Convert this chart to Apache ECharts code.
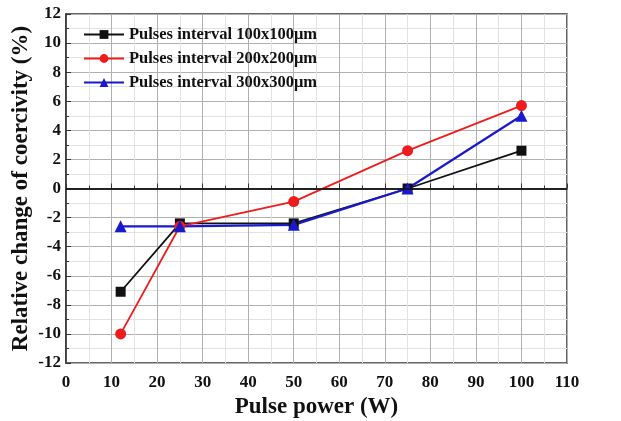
<!DOCTYPE html>
<html>
<head>
<meta charset="utf-8">
<script src="https://cdn.jsdelivr.net/npm/echarts@6/dist/echarts.min.js"></script>
<style>
  html, body { margin: 0; padding: 0; background: #fff; }
  #chart { width: 621px; height: 421px; }
</style>
</head>
<body>
<div id="chart"></div>
<script>
// values
var power = [12, 25, 50, 75, 100];
var interval100 = [-7.1, -2.4, -2.4, 0.0, 2.6];
var interval200 = [-10.0, -2.6, -0.9, 2.6, 5.7];
var interval300 = [-2.6, -2.6, -2.5, 0.0, 5.0];

var names = [
  'Pulses interval 100x100\u03bcm',
  'Pulses interval 200x200\u03bcm',
  'Pulses interval 300x300\u03bcm'
];

function pairs(ys) {
  var out = [];
  for (var i = 0; i < power.length; i++) out.push([power[i], ys[i]]);
  return out;
}

var serif = '"Liberation Serif", "DejaVu Serif", serif';
var labelStyle = { fontFamily: serif, fontWeight: 'bold', fontSize: 17, color: '#111' };

var myChart = echarts.init(document.getElementById('chart'));
var option = {
  backgroundColor: '#fff',
  animation: false,
  grid: {
    left: 66, right: 54, top: 14, bottom: 58,
    outerBoundsMode: 'none',
    show: true, borderColor: '#333', borderWidth: 1.5
  },
  legend: {
    orient: 'vertical',
    left: 78, top: 21,
    itemWidth: 40, itemHeight: 11, itemGap: 7,
    textStyle: { fontFamily: serif, fontWeight: 'bold', fontSize: 16.5, color: '#111' },
    data: names
  },
  xAxis: {
    type: 'value', min: 0, max: 110, interval: 10,
    name: 'Pulse power (W)', nameLocation: 'middle', nameGap: 30,
    nameTextStyle: { fontFamily: serif, fontWeight: 'bold', fontSize: 23, color: '#111' },
    axisLine: { lineStyle: { color: '#333', width: 1.5 } },
    axisTick: { inside: true, length: 5, lineStyle: { color: '#333' } },
    minorTick: { show: true, splitNumber: 2, length: 3, lineStyle: { color: '#333' } },
    axisLabel: Object.assign({ margin: 11 }, labelStyle),
    splitLine: { show: true, lineStyle: { color: '#b0b0b0', width: 1 } },
    minorSplitLine: { show: true, lineStyle: { color: '#e2e2e2', width: 1 } }
  },
  yAxis: {
    type: 'value', min: -12, max: 12, interval: 2,
    name: 'Relative change of coercivity (%)', nameLocation: 'middle', nameGap: 33,
    nameMoveOverlap: false,
    nameTextStyle: { fontFamily: serif, fontWeight: 'bold', fontSize: 23, color: '#111' },
    axisLine: { onZero: false, lineStyle: { color: '#333', width: 1.5 } },
    axisTick: { inside: true, length: 5, lineStyle: { color: '#333' } },
    minorTick: { show: true, splitNumber: 2, length: 3, lineStyle: { color: '#333' } },
    axisLabel: Object.assign({ margin: 5 }, labelStyle),
    splitLine: { show: true, lineStyle: { color: '#b0b0b0', width: 1 } },
    minorSplitLine: { show: true, lineStyle: { color: '#e2e2e2', width: 1 } }
  },
  series: [
    {
      name: names[0], type: 'line', data: pairs(interval100),
      color: '#111', symbol: 'rect', symbolSize: 10,
      lineStyle: { width: 1.8 },
      markLine: {
        silent: true, symbol: 'none', label: { show: false },
        lineStyle: { color: '#111', type: 'solid', width: 1.5 },
        data: [{ yAxis: 0 }]
      }
    },
    {
      name: names[1], type: 'line', data: pairs(interval200),
      color: '#ee1c1c', symbol: 'circle', symbolSize: 11,
      lineStyle: { width: 1.8 }
    },
    {
      name: names[2], type: 'line', data: pairs(interval300),
      color: '#1a1acc', symbol: 'triangle', symbolSize: 12,
      lineStyle: { width: 2.2 }
    }
  ]
};
myChart.setOption(option);
</script>
</body>
</html>
